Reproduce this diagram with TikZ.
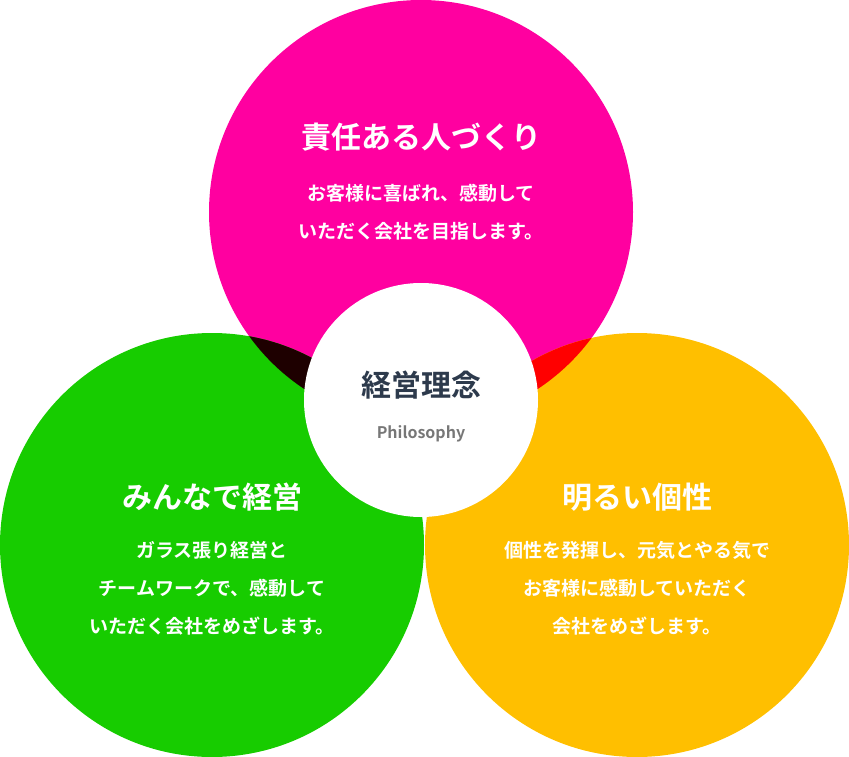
\documentclass[tikz,border=0pt]{standalone}
\usepackage{fontspec}
\newfontfamily\jpfont{Noto Sans CJK JP}
\newfontfamily\jpbold{Noto Sans CJK JP Bold}
\definecolor{pinkc}{HTML}{FF00A0}
\definecolor{greenc}{HTML}{17CC00}
\definecolor{yellowc}{HTML}{FFBF00}
\definecolor{darkc}{HTML}{1E0000}
\definecolor{redc}{HTML}{FF0000}
\definecolor{navyc}{HTML}{2D3A4C}
\definecolor{grayc}{HTML}{777777}
\begin{document}
\begin{tikzpicture}[x=1pt,y=-1pt,
  title/.style={text=white,font=\jpbold\fontsize{30}{34}\selectfont},
  body/.style={text=white,align=center,font=\jpbold\fontsize{19}{38}\selectfont}]
  \useasboundingbox (0,0) rectangle (849,757);
  % circles
  \fill[pinkc] (421,212) circle (212);
  \fill[greenc] (212,545) circle (212);
  \fill[yellowc] (637,545) circle (212);
  % overlaps
  \begin{scope}
    \clip (421,212) circle (212);
    \fill[darkc] (212,545) circle (212);
    \fill[redc] (637,545) circle (212);
  \end{scope}
  \fill[white] (421,400) circle (117);
  % center
  \node[text=navyc,font=\jpbold\fontsize{30}{34}\selectfont] (core) at (421,385) {経営理念};
  \node[text=grayc,font=\jpbold\fontsize{16}{18}\selectfont] (coreen) at (421,434) {Philosophy};
  % top
  \node[title] (toptitle) at (421,137) {責任ある人づくり};
  \node[body] (topbody) at (421,212) {お客様に喜ばれ、感動して\\いただく会社を目指します。};
  % left
  \node[title] (lefttitle) at (212,497) {みんなで経営};
  \node[body] (leftbody) at (212,588) {ガラス張り経営と\\チームワークで、感動して\\いただく会社をめざします。};
  % right
  \node[title] (righttitle) at (637,497) {明るい個性};
  \node[body] (rightbody) at (637,588) {個性を発揮し、元気とやる気で\\お客様に感動していただく\\会社をめざします。};
\end{tikzpicture}
\end{document}
